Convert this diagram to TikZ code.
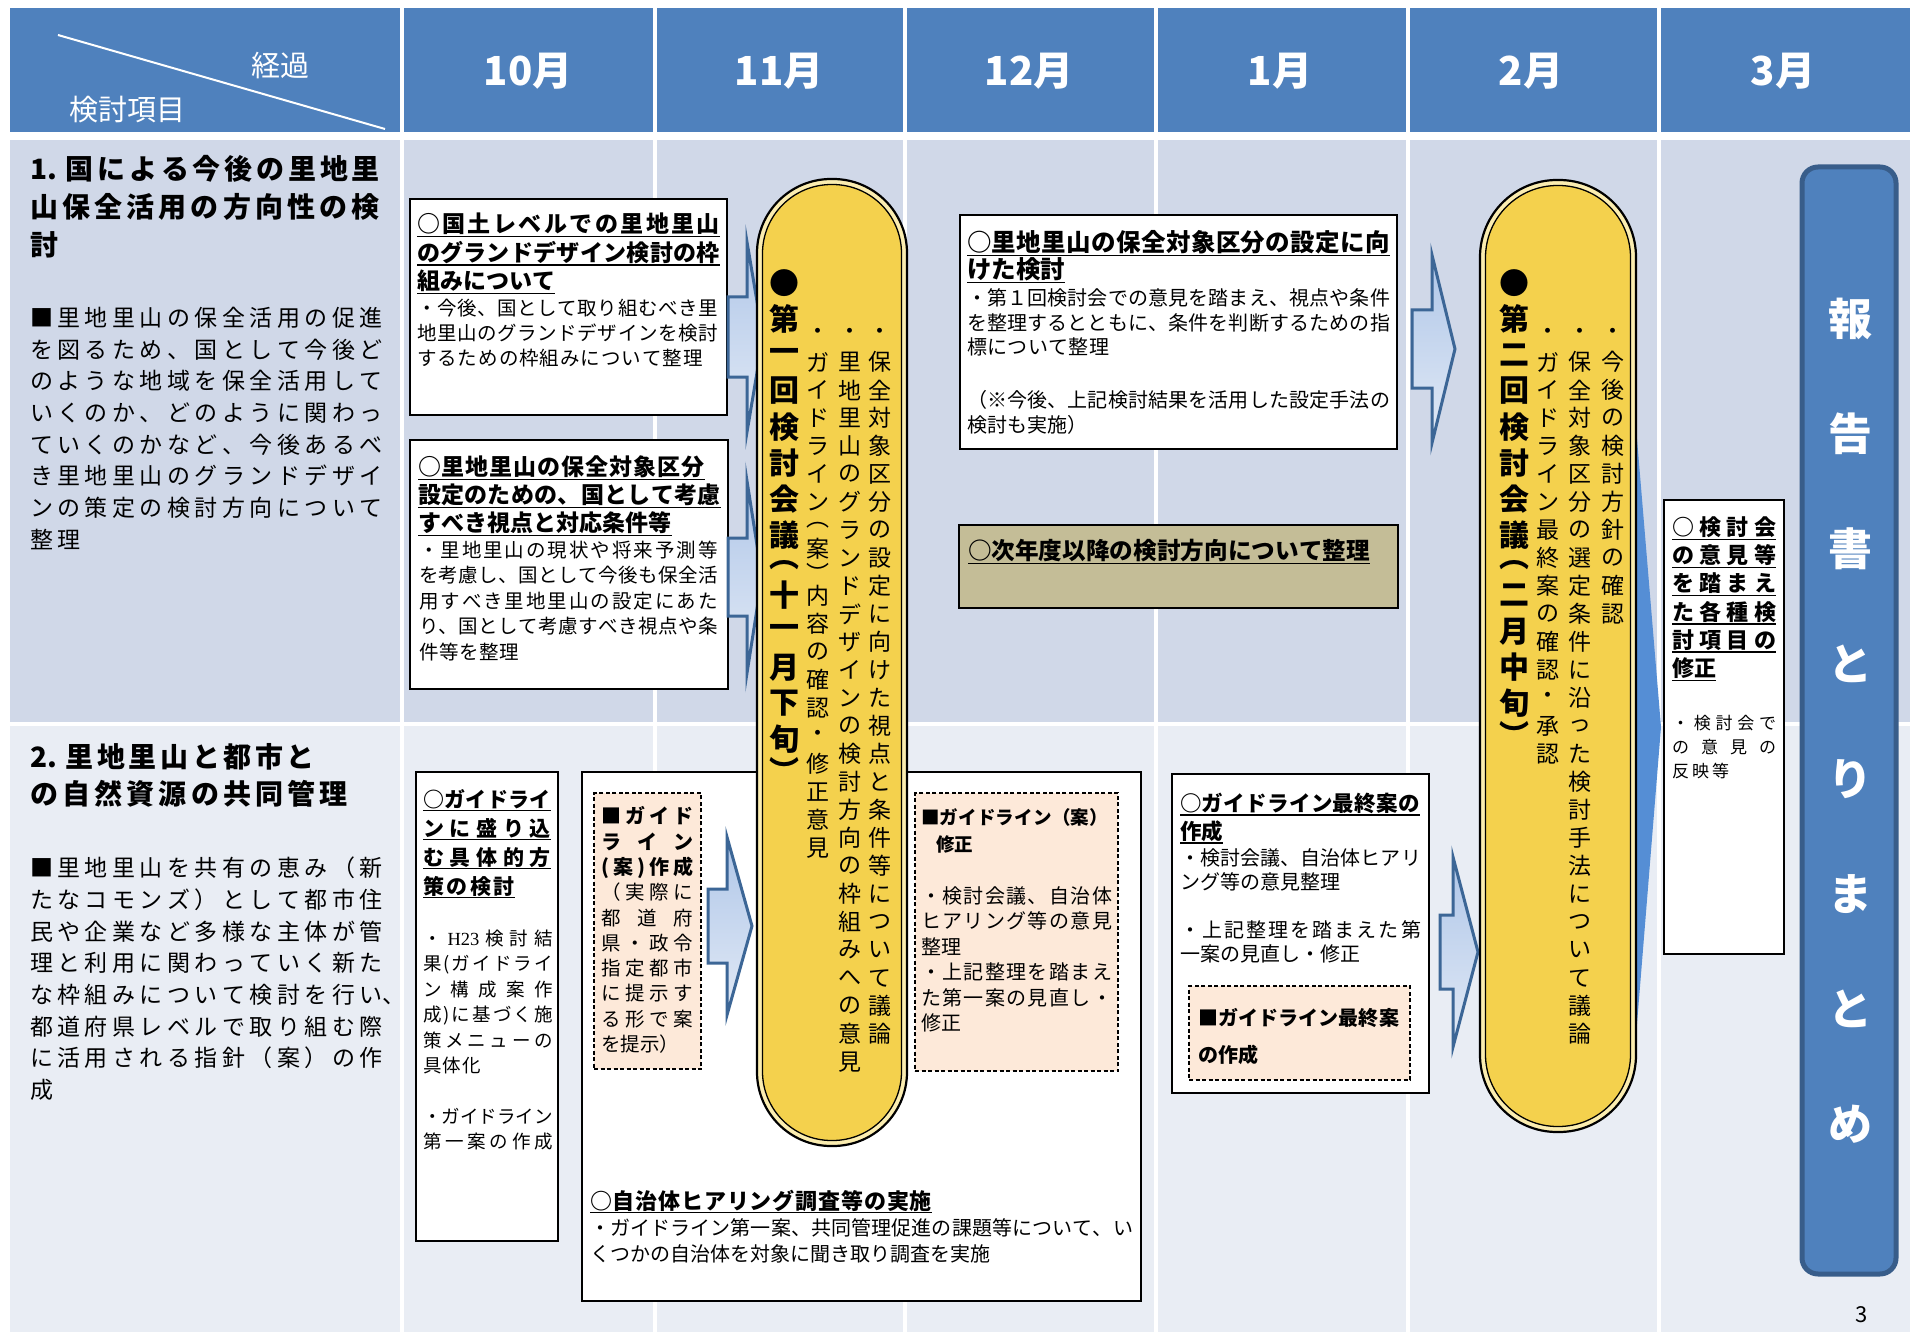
\documentclass[tikz,border=0pt]{standalone}
\usepackage{fontspec}
\setmainfont{Noto Sans CJK JP}
\newfontfamily\latinserif{Liberation Serif}
\definecolor{hdr}{HTML}{4F81BD}
\definecolor{rowa}{HTML}{D0D8E8}
\definecolor{rowb}{HTML}{E9EDF4}
\definecolor{pill}{HTML}{F4D14D}
\definecolor{pillring}{HTML}{FBEDB0}
\definecolor{peach}{HTML}{FDE9D9}
\definecolor{tanbox}{HTML}{C4BD97}
\definecolor{arrowline}{HTML}{3C6696}
\definecolor{arrtop}{HTML}{AFC6E8}
\definecolor{arrbot}{HTML}{E2EAF6}
\definecolor{wedge}{HTML}{558ED5}
\definecolor{barline}{HTML}{385D8A}
\newcommand\F[2]{\fontsize{#1}{#2}\selectfont}
% justified / spaced lines
\def\jlloop#1{\ifx\relax#1\else{#1}\jlsep\expandafter\jlloop\fi}
\newcommand\jl[2]{\hbox to #1{\def\jlsep{\hfil}\jlloop#2\relax\unskip}}
\newcommand\jg[2]{\hbox{\def\jlsep{\hskip#1}\jlloop#2\relax\unskip}}
\newcommand\ul[1]{\setbox0=\hbox{#1}\hbox{\rlap{\copy0}\rule[-0.2em]{\wd0}{1.4pt}}}
% vertical columns
\newdimen\vcw \newdimen\vcp
\def\vcchar#1{\hbox to\vcw{\hss\vbox to\ifx#1︵0.68\vcp\else\ifx#1︶0.68\vcp\else\vcp\fi\fi{\vss\hbox{#1}\vss}\hss}}
\def\vcloop#1{\ifx\relax#1\else\vcchar{#1}\expandafter\vcloop\fi}
\newcommand\vcol[3]{\vbox{\offinterlineskip\vcw=#1\relax\vcp=#2\relax\vcloop#3\relax}}
\newcommand\barrow[6]{\path[arrowsty] (#1,#4-#5) -- (#2,#4-#5) -- (#2,#4-#6) -- (#3,#4) -- (#2,#4+#6) -- (#2,#4+#5) -- (#1,#4+#5) -- cycle;}
\begin{document}
\begin{tikzpicture}[x=1pt,y=-1pt,
  box/.style={draw=black,line width=2pt,fill=white,anchor=north west,inner sep=0pt,outer sep=0pt},
  dbox/.style={box,line width=1.6pt,dash pattern=on 4pt off 2.5pt,fill=peach},
  txt/.style={anchor=north west,inner sep=0pt,outer sep=0pt,align=left},
  vtxt/.style={anchor=north,inner sep=0pt,outer sep=0pt},
  arrowsty/.style={draw=arrowline,line width=3pt,miter limit=25,top color=arrtop,bottom color=arrbot},
  month/.style={text=white,font={\F{40}{42}\bfseries},inner sep=0pt},
]
\useasboundingbox (0,0) rectangle (1912,1332);
\fill[white] (0,0) rectangle (1912,1332);
% grid
\foreach \a/\b in {10/400,404/653,657/903,907/1154,1158/1406,1410/1657,1661/1910}{
  \fill[hdr] (\a,8.5) rectangle (\b,132);
  \fill[rowa] (\a,140) rectangle (\b,722);
  \fill[rowb] (\a,726) rectangle (\b,1332);
}
\draw[white,line width=2pt] (58,35) -- (385,129);
\node[text=white,font=\F{29}{31},inner sep=0pt] (hkeika) at (280,66) {経過};
\node[text=white,font=\F{29}{31},inner sep=0pt] (hkoumoku) at (127,110) {検討項目};
\node[month] (m10) at (528,71) {10月};
\node[month] (m11) at (779,71) {11月};
\node[month] (m12) at (1029,71) {12月};
\node[month] (m1) at (1280,71) {1月};
\node[month] (m2) at (1531,71) {2月};
\node[month] (m3) at (1783,71) {3月};

% left column texts
\node[txt,font={\F{28}{38}\bfseries}] (sec1) at (30,155) {\jl{350pt}{{1.\hskip5pt}国による今後の里地里}\\\jl{350pt}{山保全活用の方向性の検}\\討};
\node[txt,font={\F{23}{31.7}}] (sec1body) at (30,307) {\jl{353pt}{■里地里山の保全活用の促進}\\\jl{353pt}{を図るため、国として今後ど}\\\jl{353pt}{のような地域を保全活用して}\\\jl{353pt}{いくのか、どのように関わっ}\\\jl{353pt}{ていくのかなど、今後あるべ}\\\jl{353pt}{き里地里山のグランドデザイ}\\\jl{353pt}{ンの策定の検討方向について}\\\jg{4.2pt}{整理}};
\node[txt,font={\F{28}{37.5}\bfseries}] (sec2) at (30,743) {\jl{285pt}{{2.\hskip5pt}里地里山と都市と}\\\jl{318pt}{の自然資源の共同管理}};
\node[txt,font={\F{23}{31.7}}] (sec2body) at (30,857) {\jl{353pt}{■里地里山を共有の恵み（新}\\\jl{353pt}{たなコモンズ）として都市住}\\\jl{353pt}{民や企業など多様な主体が管}\\\jl{353pt}{理と利用に関わっていく新た}\\\hbox{\jl{353pt}{な枠組みについて検討を行い}、}\\\jl{353pt}{都道府県レベルで取り組む際}\\\jl{353pt}{に活用される指針（案）の作}\\\jg{4.2pt}{成}};

% boxes
\node[box,minimum width=317pt,minimum height=216pt] (boxA) at (410,199) {};
\node[box,minimum width=318pt,minimum height=249pt] (boxB) at (410,440) {};
\node[box,minimum width=437pt,minimum height=234pt] (boxC) at (960,215) {};
\node[box,fill=tanbox,minimum width=439pt,minimum height=83pt] (boxD) at (959,525) {};
\node[box,minimum width=120pt,minimum height=454pt] (boxG) at (1664,500) {};
\node[box,minimum width=142pt,minimum height=469pt] (boxH) at (416,772) {};
\node[box,minimum width=559pt,minimum height=529pt] (boxI) at (582,772) {};
\node[dbox,minimum width=107pt,minimum height=276pt] (boxJ) at (594,793) {};
\node[dbox,minimum width=203pt,minimum height=278pt] (boxK) at (915,793) {};
\node[box,minimum width=257pt,minimum height=319pt] (boxE) at (1172,774) {};
\node[dbox,minimum width=221pt,minimum height=94pt] (boxL) at (1189,986) {};

% block arrows
\barrow{728}{747}{763}{337}{40}{95}
\barrow{728}{747}{762}{577}{39}{96}
\barrow{1412}{1432}{1455}{349}{39}{94}
\barrow{1440}{1453}{1478}{952}{37}{95}
\barrow{708}{727}{752}{926}{37}{89}
\fill[wedge] (1600,427) -- (1636,427) -- (1661,727) -- (1636,1036) -- (1600,1036) -- cycle;

% pills
\filldraw[fill=pillring,draw=black,line width=2.2pt,rounded corners=74pt] (757,179) rectangle (907,1146);
\filldraw[fill=pill,draw=black,line width=1.3pt,rounded corners=69pt] (762.5,184.5) rectangle (901.5,1140.5);
\coordinate (pill1) at (832,662);
\filldraw[fill=pillring,draw=black,line width=2.2pt,rounded corners=77pt] (1480,180) rectangle (1636,1132);
\filldraw[fill=pill,draw=black,line width=1.3pt,rounded corners=72pt] (1485.5,185.5) rectangle (1630.5,1126.5);
\coordinate (pill2) at (1558,656);

% report bar
\filldraw[fill=hdr,draw=barline,line width=5pt,rounded corners=16pt] (1802,167) rectangle (1896,1274);
\node[vtxt,text=white,font={\F{44}{46}\bfseries}] (report) at (1850,261.5) {\vcol{50pt}{115pt}{報告書とりまとめ}};

% pill texts
\node[vtxt,font=\F{23}{28}] (p1a) at (880,320) {\vcol{30pt}{28pt}{・保全対象区分の設定に向けた視点と条件等について議論}};
\node[vtxt,font=\F{23}{28}] (p1b) at (850,320) {\vcol{30pt}{28pt}{・里地里山のグランドデザインの検討方向の枠組みへの意見}};
\node[vtxt,font=\F{23}{28}] (p1c) at (818,320) {\vcol{30pt}{28pt}{・ガイドライン︵案︶内容の確認・修正意見}};
\node[vtxt,font={\F{30}{34}\bfseries}] (p1d) at (784,265) {\vcol{36pt}{36pt}{●第一回検討会議︵十一月下旬︶}};
\node[vtxt,font=\F{23}{28}] (p2a) at (1613,320) {\vcol{30pt}{28pt}{・今後の検討方針の確認}};
\node[vtxt,font=\F{23}{28}] (p2b) at (1580,320) {\vcol{30pt}{28pt}{・保全対象区分の選定条件に沿った検討手法について議論}};
\node[vtxt,font=\F{23}{28}] (p2c) at (1548,320) {\vcol{30pt}{28pt}{・ガイドライン最終案の確認・承認}};
\node[vtxt,font={\F{30}{34}\bfseries}] (p2d) at (1514,265) {\vcol{36pt}{36pt}{●第二回検討会議︵二月中旬︶}};

% box texts
\node[txt,font={\F{23}{28.5}\bfseries}] (tA1) at (417,213) {\ul{\jl{303pt}{○国土レベルでの里地里山}}\\\ul{\jl{303pt}{のグランドデザイン検討の枠}}\\\ul{\jg{0pt}{組みについて}}};
\node[txt,font={\F{19.5}{25}}] (tA2) at (417,299) {\jl{301pt}{・今後、国として取り組むべき里}\\\jl{301pt}{地里山のグランドデザインを検討}\\\jg{1pt}{するための枠組みについて整理}};
\node[txt,font={\F{23}{28}\bfseries}] (tB1) at (418,456) {\ul{\jl{287pt}{○里地里山の保全対象区分}}\\\ul{\jl{303pt}{設定のための、国として考慮}}\\\ul{\jl{254pt}{すべき視点と対応条件等}}};
\node[txt,font={\F{19.5}{25.5}}] (tB2) at (419,541) {\jl{299pt}{・里地里山の現状や将来予測等}\\\jl{299pt}{を考慮し、国として今後も保全活}\\\jl{299pt}{用すべき里地里山の設定にあた}\\\jl{299pt}{り、国として考慮すべき視点や条}\\\jg{0.7pt}{件等を整理}};
\node[txt,font={\F{24.5}{27}\bfseries}] (tC1) at (967,230.5) {\ul{\jl{423pt}{○里地里山の保全対象区分の設定に向}}\\\ul{\jg{0pt}{けた検討}}};
\node[txt,font={\F{20}{24.5}}] (tC2) at (967,288.6) {\jl{423pt}{・第１回検討会での意見を踏まえ、視点や条件}\\\jl{423pt}{を整理するとともに、条件を判断するための指}\\\jg{0.4pt}{標について整理}};
\node[txt,font={\F{20}{25}}] (tC3) at (967,390.6) {\jl{423pt}{（※今後、上記検討結果を活用した設定手法の}\\\jg{0pt}{検討も実施）}};
\node[txt,font={\F{23.6}{26}\bfseries}] (tD) at (968,539) {\ul{\jl{402pt}{○次年度以降の検討方向について整理}}};
\node[txt,font={\F{22}{28.2}\bfseries}] (tG1) at (1672,516.7) {\ul{\jl{104pt}{○検討会}}\\\ul{\jl{104pt}{の意見等}}\\\ul{\jl{104pt}{を踏まえ}}\\\ul{\jl{104pt}{た各種検}}\\\ul{\jl{104pt}{討項目の}}\\\ul{\jg{0pt}{修正}}};
\node[txt,font={\F{17}{24}}] (tG2) at (1672,715) {\jl{104pt}{・検討会で}\\\jl{104pt}{の意見の}\\\jg{3pt}{反映等}};
\node[txt,font={\F{21}{29}\bfseries}] (tH1) at (423,789) {\ul{\jl{128pt}{○ガイドライ}}\\\ul{\jl{128pt}{ンに盛り込}}\\\ul{\jl{128pt}{む具体的方}}\\\ul{\jg{2.5pt}{策の検討}}};
\node[txt,font={\F{18.5}{25.4}}] (tH2) at (423,930) {\jl{130pt}{・{\latinserif H23}検討結}\\\jl{130pt}{果(ガイドライ}\\\jl{130pt}{ン構成案作}\\\jl{130pt}{成)に基づく施}\\\jl{130pt}{策メニューの}\\\jg{1pt}{具体化}\\[25.4pt]\jl{130pt}{・ガイドライン}\\\jl{130pt}{第一案の作成}};
\node[txt,font={\F{20}{25.3}\bfseries}] (tJ1) at (601,806.6) {\jl{92pt}{■ガイド}\\\jl{92pt}{ライン}\\\jl{92pt}{(案)作成}};
\node[txt,font={\F{19.5}{25.3}}] (tJ2) at (601,883) {\jl{92pt}{（実際に}\\\jl{92pt}{都道府}\\\jl{92pt}{県・政令}\\\jl{92pt}{指定都市}\\\jl{92pt}{に提示す}\\\jl{92pt}{る形で案}\\\jg{0pt}{を提示）}};
\node[txt,font={\F{18.5}{27}\bfseries}] (tK1) at (921,808.3) {\jl{187pt}{■ガイドライン（案）}\\\jg{0pt}{{\hskip15pt}修正}};
\node[txt,font={\F{20}{25.4}}] (tK2) at (921,886.6) {\jl{191pt}{・検討会議、自治体}\\\jl{191pt}{ヒアリング等の意見}\\\jg{0pt}{整理}\\\jl{191pt}{・上記整理を踏まえ}\\\jl{191pt}{た第一案の見直し・}\\\jg{0pt}{修正}};
\node[txt,font={\F{22}{26}\bfseries}] (tI1) at (590,1189.7) {\ul{\jl{342pt}{○自治体ヒアリング調査等の実施}}};
\node[txt,font={\F{20}{26}}] (tI2) at (590,1218.6) {\jl{543pt}{・ガイドライン第一案、共同管理促進の課題等について、い}\\\jg{0pt}{くつかの自治体を対象に聞き取り調査を実施}};
\node[txt,font={\F{21.5}{28}\bfseries}] (tE1) at (1180,793) {\ul{\jl{240pt}{○ガイドライン最終案の}}\\\ul{\jg{0pt}{作成}}};
\node[txt,font={\F{20}{24}}] (tE2) at (1180,848.6) {\jl{241pt}{・検討会議、自治体ヒアリ}\\\jg{0pt}{ング等の意見整理}\\[24pt]\jl{241pt}{・上記整理を踏まえた第}\\\jg{0pt}{一案の見直し・修正}};
\node[txt,font={\F{20}{37}\bfseries}] (tL) at (1198,1008.6) {\jl{201pt}{■ガイドライン最終案}\\\jg{0pt}{の作成}};
\node[font=\F{22}{24},inner sep=0pt] (pageno) at (1862,1315) {3};
\end{tikzpicture}
\end{document}
